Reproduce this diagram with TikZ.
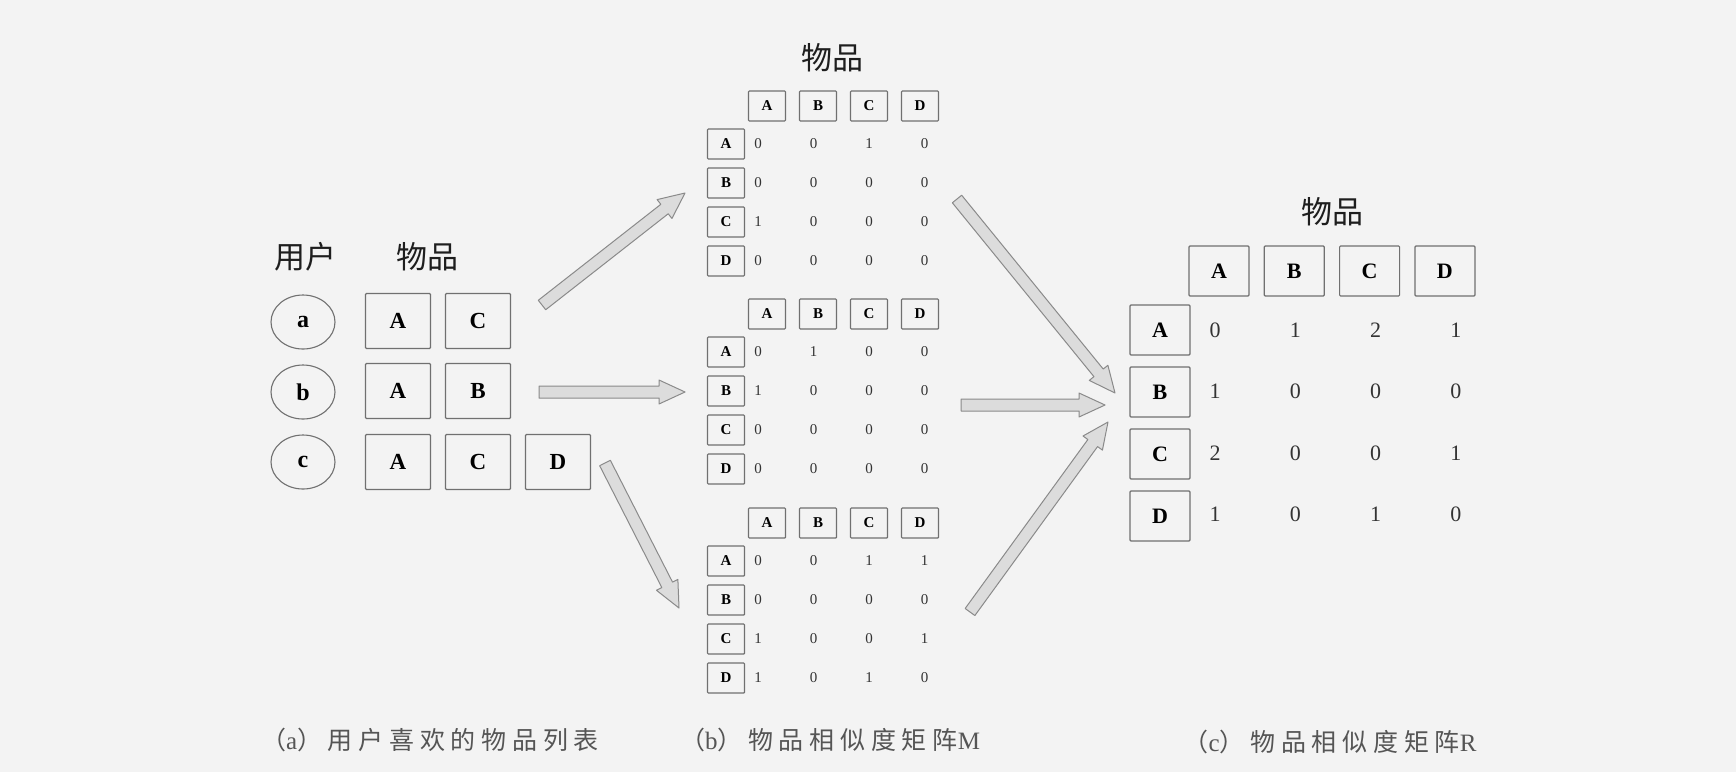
\documentclass[tikz,border=0pt]{standalone}
\usepackage{fontspec}
\setmainfont{Liberation Serif}
\newfontfamily\cjk{Noto Sans CJK SC}
\newfontfamily\capcjk{Noto Sans CJK SC}[LetterSpace=23]
\usetikzlibrary{shapes.geometric,calc}
\definecolor{bg}{HTML}{F3F3F3}
\definecolor{boxline}{HTML}{707070}
\definecolor{arrowfill}{HTML}{DCDCDC}
\definecolor{arrowline}{HTML}{8A8A8A}
\definecolor{titlecol}{HTML}{1E1E1E}
\definecolor{capcol}{HTML}{555555}
\definecolor{valcol}{HTML}{333333}
\newcommand\fs[1]{\fontsize{#1}{#1}\selectfont}
\tikzset{
  ubox/.style={draw=boxline, line width=1.2pt, rounded corners=1pt, minimum width=65pt, minimum height=55pt, inner sep=0pt, font=\bfseries\fs{23}, text=black},
  uell/.style={ellipse, draw=boxline, line width=1.1pt, minimum width=64pt, minimum height=54pt, inner sep=0pt, font=\bfseries\fs{24}, text=black},
  sbox/.style={draw=boxline, line width=1.1pt, rounded corners=0.8pt, minimum width=37pt, minimum height=30pt, inner sep=0pt, font=\bfseries\fs{15}, text=black},
  sval/.style={inner sep=0pt, font=\fs{15}, text=valcol},
  rbox/.style={draw=boxline, line width=1.2pt, rounded corners=1pt, minimum width=60pt, minimum height=50pt, inner sep=0pt, font=\bfseries\fs{22}, text=black},
  rval/.style={inner sep=0pt, font=\fs{22}, text=valcol},
  titletext/.style={inner sep=0pt, font=\cjk\fs{31}, text=titlecol},
  captext/.style={inner sep=0pt, font=\capcjk\fs{25}, text=capcol},
  barrow/.style={draw=arrowline, fill=arrowfill, line width=1pt, line join=round}
}
\newcommand\blockarrow[2]{%
  \path let \p1=(#1), \p2=(#2) in \pgfextra{%
    \pgfmathsetmacro\baAng{atan2(\y2-\y1,\x2-\x1)}%
    \pgfmathsetmacro\baLen{veclen(\x2-\x1,\y2-\y1)}%
    \xdef\baAngG{\baAng}\xdef\baLenG{\baLen}};
  \begin{scope}[shift={(#1)}, rotate=\baAngG, x=1pt, y=1pt]
    \path[barrow] (0,-6) -- ({\baLenG-26},-6) -- ({\baLenG-26},-12) -- (\baLenG,0)
      -- ({\baLenG-26},12) -- ({\baLenG-26},6) -- (0,6) -- cycle;
  \end{scope}}
\newcommand\smallmat[3]{%
  \foreach \L [count=\i from 0] in {A,B,C,D}{
    \node[sbox] (#1h\L) at ({767+51*\i}, #2) {\L};
    \node[sbox] (#1r\L) at (726, {#2+38+39*\i}) {\L};
  }
  \foreach \v [count=\k from 0] in {#3}{
    \pgfmathtruncatemacro\matr{int(\k/4)}
    \pgfmathtruncatemacro\matc{mod(\k,4)}
    \node[sval] (#1v\k) at ({758+55.5*\matc}, {#2+38+39*\matr}) {\v};
  }}
\begin{document}
\begin{tikzpicture}[x=1pt,y=-1pt]
\fill[bg] (0,0) rectangle (1736,772);
\useasboundingbox (0,0) rectangle (1736,772);

% (a) user item lists
\node[titletext] (tuser) at (305,257) {用户};
\node[titletext] (titemA) at (427,257) {物品};
\node[uell] (ua) at (303,322) {a};
\node[uell] (ub) at (303,392) {b};
\node[uell] (uc) at (303,462) {c};
\node[ubox] (aA) at (398,321) {A};
\node[ubox] (aC) at (478,321) {C};
\node[ubox] (bA) at (398,391) {A};
\node[ubox] (bB) at (478,391) {B};
\node[ubox] (cA) at (398,462) {A};
\node[ubox] (cC) at (478,462) {C};
\node[ubox] (cD) at (558,462) {D};

% (b) matrices M
\node[titletext] (titemB) at (832,58) {物品};
\smallmat{m1}{106}{0,0,1,0, 0,0,0,0, 1,0,0,0, 0,0,0,0}
\smallmat{m2}{314}{0,1,0,0, 1,0,0,0, 0,0,0,0, 0,0,0,0}
\smallmat{m3}{523}{0,0,1,1, 0,0,0,0, 1,0,0,1, 1,0,1,0}

% (c) matrix R
\node[titletext] (titemC) at (1332,212) {物品};
\foreach \L [count=\i from 0] in {A,B,C,D}{
  \node[rbox] (rh\L) at ({1219+75.3*\i}, 271) {\L};
  \node[rbox] (rr\L) at (1160, {330+62*\i}) {\L};
}
\foreach \v [count=\k from 0] in {0,1,2,1, 1,0,0,0, 2,0,0,1, 1,0,1,0}{
  \pgfmathtruncatemacro\matr{int(\k/4)}
  \pgfmathtruncatemacro\matc{mod(\k,4)}
  \node[rval] (rv\k) at ({1215+80.3*\matc}, {330+61.5*\matr}) {\v};
}

% arrows
\coordinate (l1s) at (542,305); \coordinate (l1e) at (685,193);
\coordinate (l2s) at (539,392); \coordinate (l2e) at (685,392);
\coordinate (l3s) at (605,463); \coordinate (l3e) at (679,608);
\coordinate (r1s) at (957,199); \coordinate (r1e) at (1115,393);
\coordinate (r2s) at (961,405); \coordinate (r2e) at (1105,405);
\coordinate (r3s) at (970,612); \coordinate (r3e) at (1108,422);
\blockarrow{l1s}{l1e}
\blockarrow{l2s}{l2e}
\blockarrow{l3s}{l3e}
\blockarrow{r1s}{r1e}
\blockarrow{r2s}{r2e}
\blockarrow{r3s}{r3e}

% captions
\node[captext] (capa) at (430,740) {（{\rmfamily a}）用户喜欢的物品列表};
\node[captext] (capb) at (830,740) {（{\rmfamily b}）物品相似度矩阵{\rmfamily M}};
\node[captext] (capc) at (1330,742) {（{\rmfamily c}）物品相似度矩阵{\rmfamily R}};
\end{tikzpicture}
\end{document}
